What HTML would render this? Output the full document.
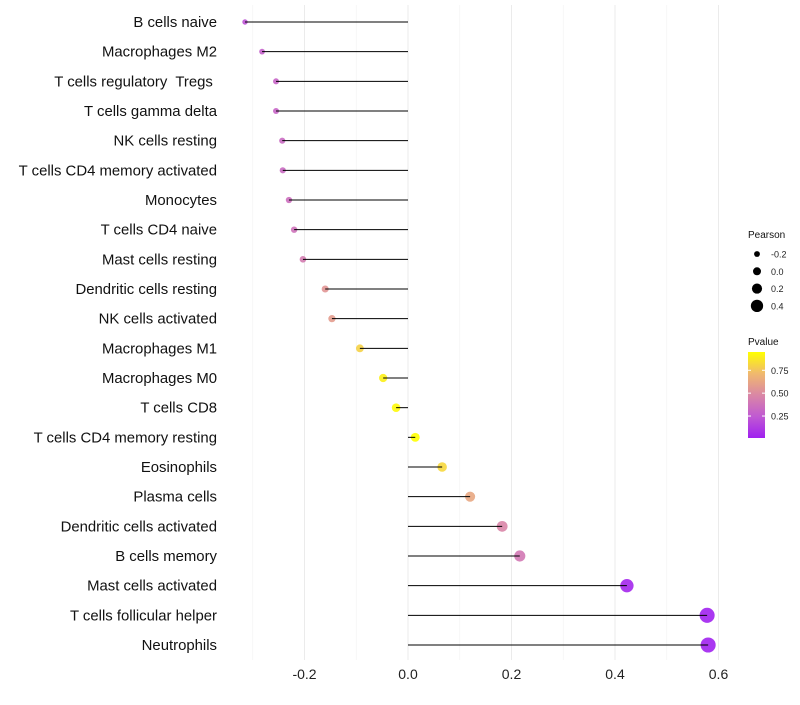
<!DOCTYPE html>
<html><head><meta charset="utf-8"><style>
body{margin:0;background:#fff;font-family:"Liberation Sans",sans-serif}
</style></head><body>
<svg id="chart" width="800" height="700" xmlns="http://www.w3.org/2000/svg"></svg>
<script>
const categories=["B cells naive","Macrophages M2","T cells regulatory\u00a0 Tregs\u00a0","T cells gamma delta","NK cells resting","T cells CD4 memory activated","Monocytes","T cells CD4 naive","Mast cells resting","Dendritic cells resting","NK cells activated","Macrophages M1","Macrophages M0","T cells CD8","T cells CD4 memory resting","Eosinophils","Plasma cells","Dendritic cells activated","B cells memory","Mast cells activated","T cells follicular helper","Neutrophils"];
const pearson=[-0.315,-0.282,-0.255,-0.255,-0.243,-0.242,-0.230,-0.220,-0.203,-0.160,-0.147,-0.093,-0.048,-0.023,0.014,0.066,0.120,0.182,0.216,0.423,0.578,0.580];
const pvalue=[0.22,0.28,0.30,0.30,0.33,0.33,0.35,0.37,0.42,0.55,0.58,0.80,0.90,0.93,0.95,0.82,0.63,0.47,0.40,0.04,0.02,0.02];
const xTicks=[-0.2,0.0,0.2,0.4,0.6];
const xMinor=[-0.3,-0.1,0.1,0.3,0.5];
const sizeLegend=[-0.2,0.0,0.2,0.4];
const pTicks=[0.25,0.50,0.75];

const svg=document.getElementById('chart');
const NS='http://www.w3.org/2000/svg';
function mk(t,a){const e=document.createElementNS(NS,t);for(const k in a)e.setAttribute(k,a[k]);svg.appendChild(e);return e;}
const x=v=>408+v*517.5;
const y=i=>22+i*(623/21);
const r=v=>4.4+5.4*v;
function lerp(a,b,t){return a.map((c,i)=>Math.round(c+(b[i]-c)*t));}
function col(p){const t=Math.max(0,Math.min(1,(p-0.01)/0.94));
const stops=[[0,[160,32,240]],[0.25,[192,90,210]],[0.5,[218,135,165]],[0.75,[240,185,110]],[1,[255,255,0]]];
for(let k=1;k<stops.length;k++){if(t<=stops[k][0]){const a=stops[k-1],b=stops[k];return `rgb(${lerp(a[1],b[1],(t-a[0])/(b[0]-a[0]))})`;}}
return 'rgb(255,255,0)';}

xMinor.forEach(v=>{const l=mk('line',{x1:x(v),x2:x(v),y1:5,y2:660,stroke:'#f3f3f3','stroke-width':0.8});
});
xTicks.forEach(v=>{const l=mk('line',{x1:x(v),x2:x(v),y1:5,y2:660,stroke:'#ebebeb','stroke-width':1});

const t=mk('text',{x:x(v),y:679,'text-anchor':'middle','font-size':14,fill:'#222'});t.textContent=v.toFixed(1);
});

categories.forEach((c,i)=>{
const t=mk('text',{x:217,y:y(i)+5,'text-anchor':'end','font-size':14.9,fill:'#111'});t.textContent=c;

const d=mk('circle',{cx:x(pearson[i]),cy:y(i),r:r(pearson[i]),fill:col(pvalue[i]),'fill-opacity':0.9});

const l=mk('line',{x1:x(0),x2:x(pearson[i]),y1:y(i),y2:y(i),stroke:'#000','stroke-width':1});

});

let tt=mk('text',{x:748,y:238,'font-size':10,fill:'#111'});tt.textContent='Pearson';

sizeLegend.forEach((v,i)=>{const cy=254+i*17.3;
const c=mk('circle',{cx:757,cy:cy,r:r(v)-0.4,fill:'#000'});
const t=mk('text',{x:771,y:cy+3.5,'font-size':9,fill:'#222'});t.textContent=v.toFixed(1);
});

tt=mk('text',{x:748,y:345,'font-size':10,fill:'#111'});tt.textContent='Pvalue';

const defs=mk('defs',{});
const g=document.createElementNS(NS,'linearGradient');g.setAttribute('id','pg');g.setAttribute('x1',0);g.setAttribute('y1',1);g.setAttribute('x2',0);g.setAttribute('y2',0);defs.appendChild(g);
[0,0.25,0.5,0.75,1].forEach(s=>{const st=document.createElementNS(NS,'stop');st.setAttribute('offset',s);st.setAttribute('stop-color',col(0.01+s*0.94));g.appendChild(st);});
const bar=mk('rect',{x:748,y:352,width:17,height:86,fill:'url(#pg)'});

const py=p=>438-(p-0.01)/0.94*86;
pTicks.forEach(p=>{mk('line',{x1:748,x2:751,y1:py(p),y2:py(p),stroke:'#fff'});mk('line',{x1:762,x2:765,y1:py(p),y2:py(p),stroke:'#fff'});
const t=mk('text',{x:771,y:py(p)+3.5,'font-size':9,fill:'#222'});t.textContent=p.toFixed(2);
});
</script>
</body></html>
